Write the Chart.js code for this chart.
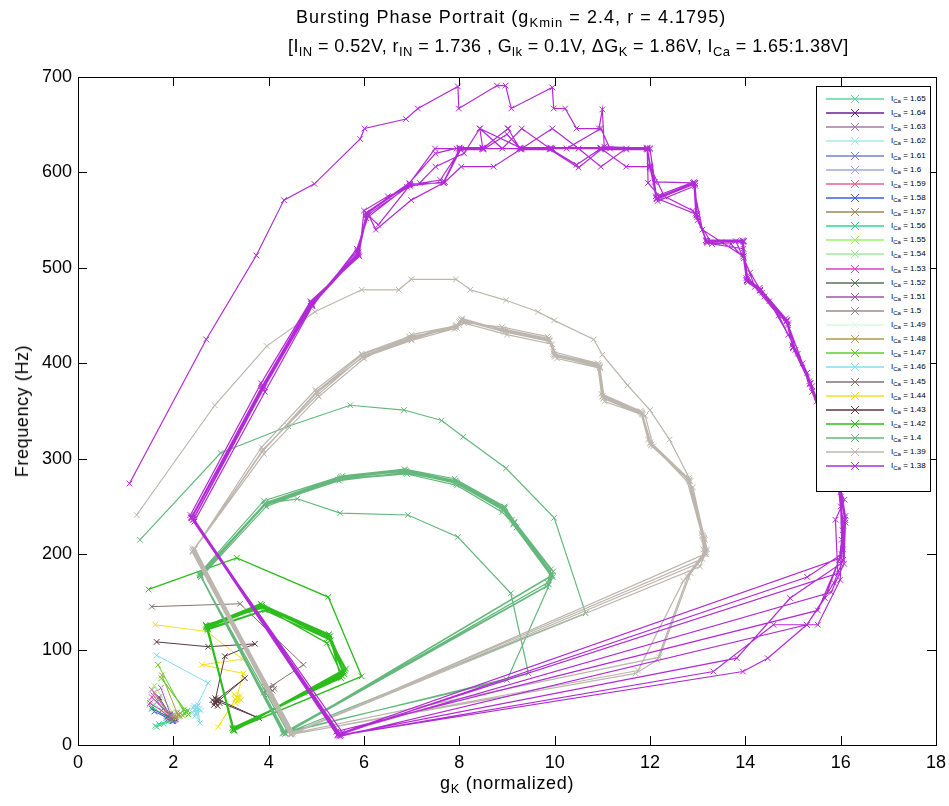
<!DOCTYPE html>
<html>
<head>
<meta charset="utf-8">
<script src="https://cdn.jsdelivr.net/npm/chart.js@4.4.1/dist/chart.umd.min.js"></script>
<style>
  html,body{margin:0;padding:0;background:#fff;}
  #wrap{position:relative;width:949px;height:806px;overflow:hidden;font-family:"Liberation Sans",Arial,sans-serif;color:#000;}
  #c{position:absolute;left:0;top:0;}
  .t{position:absolute;white-space:nowrap;font-size:18px;line-height:1;}
  .t sub{font-size:13px;vertical-align:-4px;line-height:0;}
  #legend{position:absolute;left:816px;top:86px;width:115px;height:406px;border:1px solid #000;background:#fff;box-sizing:border-box;}
  .row{position:absolute;left:0;height:12px;width:112px;}
  .row svg{position:absolute;left:9px;top:0;}
  .row span{position:absolute;left:74px;top:1px;font-size:8px;white-space:nowrap;}
  .row span sub{font-size:6px;vertical-align:-2px;line-height:0;}
</style>
</head>
<body>
<div id="wrap">
  <canvas id="c" width="949" height="806"></canvas>
  <div class="t" id="t1" style="left:296px;top:8px;letter-spacing:1.05px;">Bursting Phase Portrait (g<sub>Kmin</sub> = 2.4, r = 4.1795)</div>
  <div class="t" id="t2" style="left:288px;top:37px;letter-spacing:0.4px;">[I<sub>IN</sub> = 0.52V, r<sub>IN</sub> = 1.736 , G<sub>lk</sub> = 0.1V, &Delta;G<sub>K</sub> = 1.86V, I<sub>Ca</sub> = 1.65:1.38V]</div>
  <div class="t" id="xl" style="left:440px;top:774px;letter-spacing:0.7px;">g<sub>K</sub> (normalized)</div>
  <div class="t" id="yl" style="left:22px;top:411px;letter-spacing:0.6px;transform:translate(-50%,-50%) rotate(-90deg);">Frequency (Hz)</div>
  <div id="legend"></div>
</div>
<script>
// ---- data ----
const currents = ['1.65','1.64','1.63','1.62','1.61','1.6','1.59','1.58','1.57','1.56','1.55','1.54','1.53','1.52','1.51','1.5','1.49','1.48','1.47','1.46','1.45','1.44','1.43','1.42','1.4','1.39','1.38'];
const colors = ['#5fd3a0','#6a1f8f','#a67aa8','#a0ece8','#7080cc','#a0a8e0','#e8608a','#3a5cf0','#9a8a58','#2ed88e','#9ef06a','#a6e6a0','#e23cc8','#587058','#9a58a8','#a08a8c','#dcf8e4','#b09a4c','#5ed028','#88dcf0','#857272','#f2e21e','#5a3840','#2cbc1c','#64b87c','#bdb6ae','#b22ad6'];
const lineWidths = [1,1,1,1,1,1,1,1,1,1,1,1,1,1,1,1,1,1,1,1,1,1,1,1.4,1.2,1.2,1.2];

const s165 = [[1.62,20],[1.9,25],[2.0,28],[1.8,22],[1.65,19],[1.95,26]];
const s164 = [[1.7,50],[1.95,30],[2.05,27],[1.98,25],[2.02,28],[1.9,27]];
const s163 = [[1.55,58],[1.9,32],[2.0,28],[1.95,30],[2.03,26]];
const s162 = [[1.6,38],[1.85,27],[1.95,25],[1.9,29]];
const s161 = [[1.65,45],[1.92,30],[2.0,26],[1.96,28]];
const s160 = [[1.5,42],[1.85,28],[1.95,27],[1.9,30]];
const s159 = [[1.58,52],[1.88,32],[1.98,28],[1.93,26]];
const s158 = [[1.6,35],[1.9,28],[2.0,25],[1.95,29]];
const s157 = [[1.7,48],[1.95,30],[2.05,29],[2.0,27]];
const s156 = [[1.55,40],[1.85,30],[1.95,26],[1.7,22]];
const s155 = [[1.6,62],[2.0,33],[2.1,30],[2.05,34]];
const s154 = [[1.5,47],[1.9,31],[2.0,29],[1.96,33]];
const s153 = [[1.51,44],[1.75,36],[1.9,30],[2.0,28],[1.55,50]];
const s152 = [[1.55,38],[1.88,30],[1.98,28],[1.92,32]];
const s151 = [[1.74,60],[1.94,32],[2.02,29],[1.96,28],[2.0,31]];
const s150 = [[1.6,55],[1.95,30],[2.05,29],[2.0,32]];
const s149 = [[1.65,70],[2.05,33],[2.1,32],[2.08,35]];
const s148 = [[1.76,73],[2.10,31],[2.15,33],[2.05,29],[2.12,32],[2.08,34],[2.14,30]];
const s147 = [[1.68,84],[2.24,33],[2.3,36],[2.2,31],[2.28,34],[2.22,37],[2.32,32],[1.75,70],[2.26,35]];
const s146 = [[1.65,94],[2.73,65],[2.45,37],[2.56,23],[2.5,40],[2.4,34],[2.55,38],[2.45,30],[2.52,42],[2.42,39],[2.48,33],[2.58,36],[2.44,41]];
const s145 = [[1.55,145],[3.40,148],[4.73,84],[4.0,60],[3.9,55],[4.1,62],[3.95,57],[4.05,55],[4.0,58],[3.92,61],[4.08,57],[3.98,52],[4.12,59]];
const s144 = [[1.62,126],[2.70,119],[3.45,90],[2.6,84],[3.47,75],[3.33,50],[2.94,19],[3.3,48],[3.4,52],[3.35,46],[3.28,53],[3.38,49],[3.31,44],[3.42,47]];
const s143 = [[1.65,108],[2.73,103],[3.71,106],[3.08,93],[2.87,45],[2.95,48],[2.85,42],[2.9,47],[3.5,70],[2.9,44],[2.93,41],[2.82,47],[2.97,44],[2.88,49],[3.8,28],[2.92,46]];
const s142 = [
 [1.48,163],[3.33,196],[5.25,155],[5.95,72],[3.26,16],
 [2.70,124],[3.85,146],[5.25,113],[5.57,75],[3.26,16],
 [2.72,122],[3.96,142],[5.29,114],[5.6,78],[3.28,15],
 [2.68,126],[3.9,144],[5.22,107],[5.55,72],[3.25,17],
 [2.71,123],[3.87,145],[5.26,112],[5.58,76],[3.26,16],
 [2.69,125],[3.83,148],[5.24,115],[5.62,80],[3.27,15],
 [2.73,121],[3.92,141],[5.3,110],[5.52,70],[3.24,18],
 [2.70,124],[3.86,147],[5.27,116],[5.59,74],[3.26,16],[2.70,124]
];
const s140 = [
 [1.30,215],[2.99,306],[4.41,334],[5.71,356],[6.84,351],[7.63,340],[8.08,323],[8.98,290],[9.99,238],[10.65,138],[4.35,12],
 [2.56,178],[3.92,253],[4.6,258],[5.5,243],[6.92,241],[7.97,218],[9.08,159],[9.45,75],[4.3,12],
 [2.56,178],[3.92,253],[5.5,280],[6.88,287],[7.93,276],[8.94,248],[9.15,233],[9.94,180],[9.83,166],[4.35,12],
 [2.58,176],[3.95,250],[5.45,278],[6.9,284],[7.95,272],[8.9,244],[9.2,228],[9.96,176],[9.0,68],[4.3,13],
 [2.55,180],[3.9,256],[5.55,282],[6.85,289],[7.9,279],[8.95,250],[9.1,236],[9.92,184],[9.85,170],[4.4,14],
 [2.57,177],[3.93,252],[5.5,279],[6.88,285],[7.95,275],[8.93,247],[9.14,232],[9.95,178],[4.35,12],
 [2.56,179],[3.94,254],[5.52,281],[6.86,288],[7.92,277],[8.96,249],[9.16,234],[9.97,182],[9.88,168],[4.32,13],
 [2.57,178],[3.91,251],[5.48,277],[6.9,286],[7.94,274],[8.92,246],[9.13,231],[9.93,177],[4.36,12],[2.56,178]
];
const s139 = [
 [1.23,241],[2.87,356],[3.96,418],[4.97,454],[5.95,477],[6.73,477],[6.99,488],[7.93,488],[8.23,477],[8.98,466],[9.65,454],[9.99,445],[10.82,425],[11.0,409],[11.53,377],[12.0,351],[12.41,320],[12.82,280],[13.1,220],[13.15,200],[4.48,11],
 [2.42,204],[3.88,309],[5.01,369],[5.98,407],[6.99,425],[7.93,439],[8.04,446],[8.94,435],[9.88,425],[9.99,409],[10.93,398],[11.0,365],[11.83,348],[12.0,316],[12.82,278],[13.12,218],[13.16,201],[13.05,187],[4.5,12],
 [2.45,206],[3.9,305],[5.05,365],[6.0,405],[7.0,430],[8.0,440],[8.1,442],[9.0,430],[9.95,420],[10.05,405],[10.95,395],[11.05,360],[11.9,345],[12.07,313],[12.9,270],[13.15,215],[13.2,205],[12.79,176],[12.15,89],[11.7,75],[4.45,11],
 [2.4,202],[3.85,312],[4.98,372],[5.95,410],[6.95,428],[7.9,436],[8.0,443],[8.9,438],[9.85,428],[9.97,412],[10.9,400],[10.98,368],[11.8,350],[11.96,320],[12.75,282],[13.08,222],[13.12,205],[13.1,195],[4.52,13],
 [2.43,205],[3.87,308],[5.0,370],[5.97,406],[7.0,424],[7.95,437],[8.06,447],[8.96,434],[9.9,424],[10.0,408],[10.95,396],[11.02,363],[11.85,346],[12.02,314],[12.84,276],[13.14,216],[13.18,200],[12.85,180],[12.2,92],[4.47,12],
 [2.41,203],[3.89,310],[5.03,367],[5.99,408],[6.97,426],[7.92,438],[8.02,444],[8.92,436],[9.87,426],[9.98,410],[10.92,399],[11.01,366],[11.82,349],[12.01,317],[12.8,279],[13.1,219],[13.17,202],[13.0,190],[4.49,12],
 [2.44,205],[3.86,307],[5.02,371],[5.96,409],[6.98,427],[7.94,440],[8.05,445],[8.95,433],[9.89,423],[10.01,407],[10.94,397],[11.03,364],[11.84,347],[12.03,315],[12.83,277],[13.13,217],[13.15,203],[12.7,172],[11.75,78],[4.46,11],[2.42,204]
];
const s138 = [
 [1.08,274],[2.69,425],[3.74,513],[4.32,571],[4.96,588],[5.92,635],[6.01,646],[6.88,656],[7.13,667],[7.97,690],[7.99,667],[8.79,691],[8.97,691],[9.09,667],[9.95,689],[9.98,667],[10.22,667],[10.46,646],[10.93,646],[11.0,666],[11.04,627],[12.0,625],[12.14,573],[12.94,589],[12.98,556],[13.19,528],[13.96,528],[14.03,487],[14.31,477],[14.87,445],[15.0,417],[15.36,379],[15.6,350],[15.82,320],[15.94,278],[16.09,236],[16.05,194],[15.86,170],[15.29,126],[14.47,91],[13.95,77],[5.48,10],
 [2.39,238],[3.88,374],[4.9,463],[5.87,515],[6.06,557],[6.96,588],[7.67,589],[8.0,625],[8.49,625],[9.02,646],[9.27,625],[9.92,625],[10.97,625],[11.94,625],[12.0,606],[12.14,573],[12.94,589],[12.98,556],[13.19,528],[13.96,528],[13.96,512],[14.03,487],[14.31,477],[14.87,445],[15.0,417],[15.36,379],[15.82,320],[15.94,278],[16.09,236],[16.0,196],[5.55,13],
 [2.44,234],[3.92,370],[4.92,460],[5.85,520],[6.1,555],[6.25,540],[6.99,571],[7.7,590],[8.04,606],[8.72,606],[9.31,625],[9.95,646],[10.5,625],[10.97,606],[11.5,625],[12.0,625],[12.1,590],[12.9,589],[13.1,540],[13.5,527],[13.96,512],[14.2,480],[14.7,450],[15.1,410],[15.4,370],[15.7,330],[15.9,290],[16.0,250],[16.02,215],[15.97,194],[15.52,141],[5.42,14],
 [2.36,241],[3.84,379],[4.88,465],[5.9,512],[6.0,560],[6.5,575],[7.17,589],[7.5,606],[8.1,620],[8.43,646],[8.9,625],[9.31,646],[9.9,625],[10.46,608],[10.97,625],[11.5,606],[12.0,606],[12.3,575],[12.9,560],[13.2,528],[13.8,528],[14.1,495],[14.4,470],[14.9,440],[15.2,400],[15.5,360],[15.9,300],[16.1,240],[16.05,205],[15.67,154],[15.29,126],[5.5,9],
 [2.42,236],[3.9,376],[4.9,460],[5.88,516],[6.05,552],[6.9,585],[7.49,625],[7.94,625],[8.5,625],[9.27,625],[9.95,625],[10.25,625],[10.97,646],[11.16,625],[11.94,625],[11.96,589],[12.2,575],[12.94,589],[13.0,550],[13.3,525],[13.96,520],[14.05,490],[14.5,465],[14.9,430],[15.3,390],[15.6,345],[15.85,305],[16.0,265],[16.08,257],[15.89,236],[15.94,180],[5.45,11],
 [2.38,239],[3.85,373],[4.9,462],[5.86,518],[6.06,557],[6.96,588],[7.67,589],[8.04,625],[8.49,625],[9.02,646],[9.27,625],[9.92,625],[10.97,625],[11.94,625],[12.0,606],[12.14,573],[12.98,556],[13.19,528],[13.96,528],[14.03,487],[14.31,477],[14.87,445],[15.0,417],[15.36,379],[15.82,320],[15.94,278],[16.04,225],[15.99,173],[15.52,126],[14.59,126],[13.33,77],[5.52,10],
 [2.43,237],[3.91,375],[4.91,461],[5.88,514],[6.07,556],[6.3,545],[6.97,587],[7.6,592],[8.02,624],[8.5,624],[9.0,640],[9.3,624],[9.9,624],[10.5,605],[10.97,624],[11.5,624],[11.95,624],[12.02,604],[12.16,570],[12.95,586],[12.99,553],[13.2,526],[13.7,525],[13.97,510],[14.05,485],[14.35,474],[14.9,442],[15.05,414],[15.4,376],[15.85,316],[15.96,275],[16.1,233],[16.07,190],[15.8,160],[5.47,12],
 [2.37,238],[3.86,376],[4.89,464],[5.89,513],[6.05,558],[6.95,589],[7.5,620],[8.0,626],[8.49,626],[8.43,646],[9.27,626],[9.92,626],[10.97,626],[11.94,626],[12.0,607],[12.12,575],[12.92,590],[12.96,557],[13.17,529],[13.94,529],[13.95,514],[14.02,489],[14.3,479],[14.85,447],[14.98,419],[15.34,381],[15.8,322],[15.93,280],[16.08,238],[16.02,200],[15.3,176],[5.44,10],
 [2.41,236],[3.88,373],[4.9,462],[5.87,516],[6.06,555],[6.96,586],[7.67,590],[8.01,625],[8.49,625],[9.02,646],[9.27,625],[9.92,625],[10.97,625],[11.94,625],[12.0,605],[12.14,572],[12.94,588],[12.98,555],[13.19,527],[13.96,527],[14.03,486],[14.31,476],[14.87,444],[15.0,416],[15.36,378],[15.82,319],[15.94,277],[16.06,230],[16.0,190],[14.94,154],[13.82,91],[5.48,10],[2.39,238]
];
const seriesData = [s165,s164,s163,s162,s161,s160,s159,s158,s157,s156,s155,s154,s153,s152,s151,s150,s149,s148,s147,s146,s145,s144,s143,s142,s140,s139,s138];
const xTicks = [0,2,4,6,8,10,12,14,16,18];
const yTicks = [0,100,200,300,400,500,600,700];

// ---- chart ----
const datasets = seriesData.map((pts, i) => ({
  label: 'ICa = ' + currents[i],
  data: pts.map(p => ({x: p[0], y: p[1]})),
  showLine: true,
  borderColor: colors[i],
  backgroundColor: colors[i],
  borderWidth: lineWidths[i],
  pointStyle: 'crossRot',
  pointRadius: 4,
  pointBorderWidth: 1,
  pointBorderColor: colors[i],
  order: seriesData.length - 1 - i,
  tension: 0
}));

const frame = {
  id: 'frame',
  afterDraw(chart) {
    const {ctx, chartArea: a, scales: {x, y}} = chart;
    ctx.save();
    ctx.strokeStyle = '#000';
    ctx.lineWidth = 1;
    ctx.strokeRect(Math.round(a.left) + 0.5, Math.round(a.top) + 0.5, Math.round(a.right - a.left), Math.round(a.bottom - a.top));
    const L = 9;
    ctx.beginPath();
    xTicks.forEach(v => {
      const px = Math.round(x.getPixelForValue(v)) + 0.5;
      ctx.moveTo(px, a.bottom); ctx.lineTo(px, a.bottom - L);
      ctx.moveTo(px, a.top); ctx.lineTo(px, a.top + L);
    });
    yTicks.forEach(v => {
      const py = Math.round(y.getPixelForValue(v)) + 0.5;
      ctx.moveTo(a.left, py); ctx.lineTo(a.left + L, py);
      ctx.moveTo(a.right, py); ctx.lineTo(a.right - L, py);
    });
    ctx.stroke();
    ctx.restore();
  }
};

Chart.defaults.font.family = '"Liberation Sans", Arial, sans-serif';
Chart.defaults.color = '#000';

new Chart(document.getElementById('c'), {
  type: 'scatter',
  data: { datasets },
  options: {
    responsive: false,
    animation: false,
    devicePixelRatio: 1,
    layout: { padding: { top: 77, right: 13, left: 0, bottom: 0 } },
    plugins: { legend: { display: false }, tooltip: { enabled: false }, title: { display: false } },
    scales: {
      x: {
        type: 'linear', min: 0, max: 18,
        afterBuildTicks: s => { s.ticks = xTicks.map(v => ({value: v})); },
        afterFit: s => { s.height = 61; s.paddingLeft = 0; s.paddingRight = 0; },
        grid: { display: false, drawTicks: false },
        border: { display: false },
        ticks: { font: { size: 18 }, padding: 7, maxRotation: 0, autoSkip: false }
      },
      y: {
        type: 'linear', min: 0, max: 700,
        afterBuildTicks: s => { s.ticks = yTicks.map(v => ({value: v})); },
        afterFit: s => { s.width = 78; s.paddingTop = 0; s.paddingBottom = 0; },
        grid: { display: false, drawTicks: false },
        border: { display: false },
        ticks: { font: { size: 18 }, padding: 6, autoSkip: false }
      }
    }
  },
  plugins: [frame]
});

// ---- legend (HTML) ----
const leg = document.getElementById('legend');
currents.forEach((c, i) => {
  const row = document.createElement('div');
  row.className = 'row';
  row.style.top = (6 + i * 14.13) + 'px';
  row.innerHTML = '<svg width="60" height="12"><line x1="0" y1="6" x2="58" y2="6" stroke="' + colors[i] + '" stroke-width="1.3"/>' +
    '<line x1="25" y1="2" x2="33" y2="10" stroke="' + colors[i] + '"/><line x1="25" y1="10" x2="33" y2="2" stroke="' + colors[i] + '"/></svg>' +
    '<span>I<sub>Ca</sub> = ' + c + '</span>';
  leg.appendChild(row);
});
</script>
</body>
</html>
